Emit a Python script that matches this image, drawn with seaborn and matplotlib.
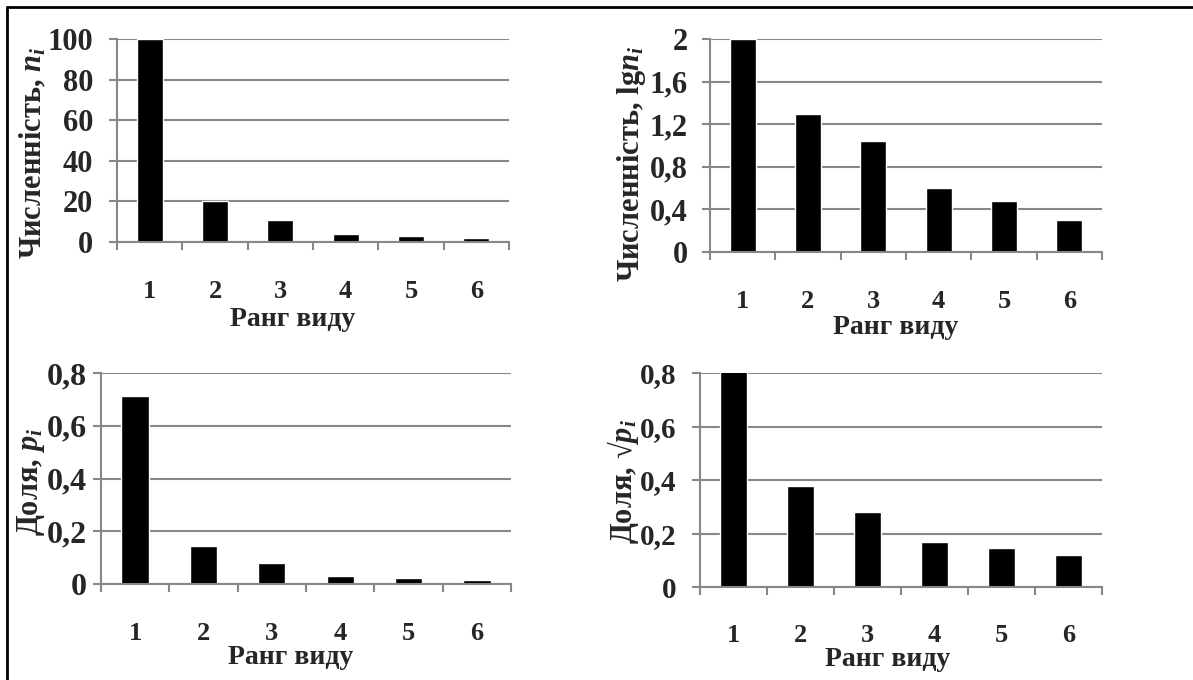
import numpy as np
import pandas as pd
import matplotlib
matplotlib.use('Agg')
import matplotlib.pyplot as plt
import seaborn as sns
from matplotlib.ticker import FuncFormatter, FixedLocator
from matplotlib.lines import Line2D

# --- STYLE ---
sns.set_style('white')
plt.rcParams['font.family'] = ['Liberation Serif', 'DejaVu Serif']
plt.rcParams['font.weight'] = 'bold'
plt.rcParams['mathtext.fontset'] = 'custom'
plt.rcParams['mathtext.rm'] = 'Liberation Serif:bold'
plt.rcParams['mathtext.it'] = 'Liberation Serif:italic:bold'
plt.rcParams['mathtext.bf'] = 'Liberation Serif:bold'

# --- DATA ---
ranks = ['1', '2', '3', '4', '5', '6']
n_i = [100, 20, 11, 4, 3, 2]
lg_n_i = [2.0, 1.30, 1.04, 0.60, 0.48, 0.30]
p_i = [0.714, 0.143, 0.079, 0.029, 0.021, 0.014]
sqrt_p_i = [0.845, 0.378, 0.280, 0.169, 0.146, 0.120]

ylabels = ['Численність, $n_i$', 'Численність, lg$n_i$', 'Доля, $p_i$', 'Доля, √$p_i$']
y_ticks = [np.arange(0, 101, 20), np.arange(0, 2.01, 0.4),
           np.arange(0, 0.81, 0.2), np.arange(0, 0.81, 0.2)]
y_max = [100, 2, 0.8, 0.8]

W, H = 1193, 680
# axes boxes in pixels: left, right, top, bottom
boxes = [(117, 509, 39, 242), (710, 1102, 39, 252),
         (101, 511, 373, 584), (700, 1102, 373, 587)]
# label centres in pixels: ylabel (x, y), xlabel (x, y)
ylab_pos = [(33, 153), (632, 164), (31, 482), (623, 482)]
xlab_pos = [(293, 320), (896, 327), (291, 658), (888, 659)]
ytick_pad = [11, 10, 4, 11]
ytick_size = [22, 22, 23, 21]

GRAY = '#878787'


def fmt(v, _):
    return f"{v:g}".replace('.', ',')


fig = plt.figure(figsize=(W / 100, H / 100), dpi=100)
series = [n_i, lg_n_i, p_i, sqrt_p_i]

for i, vals in enumerate(series):
    l, r, t, b = boxes[i]
    ax = fig.add_axes([l / W, 1 - b / H, (r - l) / W, (b - t) / H])
    df = pd.DataFrame({'rank': ranks, 'value': vals})
    sns.barplot(data=df, x='rank', y='value', color='black', saturation=1,
                width=0.4, ax=ax)
    ax.set_xlim(-0.5, 5.5)
    ax.set_ylim(0, y_max[i])
    ax.set_axisbelow(True)
    ax.yaxis.grid(True, color=GRAY, linewidth=1.5)
    for s in ['top', 'right']:
        ax.spines[s].set_visible(False)
    for s in ['left', 'bottom']:
        ax.spines[s].set_color(GRAY)
        ax.spines[s].set_linewidth(1.5)

    ax.set_yticks(y_ticks[i])
    ax.yaxis.set_major_formatter(FuncFormatter(fmt))
    ax.tick_params(axis='y', length=6, width=1.5, color=GRAY, pad=ytick_pad[i],
                   labelsize=ytick_size[i], left=True)
    ax.xaxis.set_minor_locator(FixedLocator(np.arange(-0.5, 6, 1)))
    ax.tick_params(axis='x', which='minor', length=6, width=1.5, color=GRAY,
                   bottom=True)
    ax.tick_params(axis='x', which='major', length=0, pad=27, labelsize=19)
    for lab in ax.get_xticklabels() + ax.get_yticklabels():
        lab.set_fontweight('bold')

    ax.set_xlabel('Ранг виду', fontsize=20, fontweight='bold')
    ax.xaxis.label.set_va('center')
    ax.xaxis.set_label_coords(xlab_pos[i][0] / W, 1 - xlab_pos[i][1] / H,
                              transform=fig.transFigure)
    ax.set_ylabel(ylabels[i], fontsize=22, fontweight='bold')
    ax.yaxis.label.set_va('center')
    ax.yaxis.set_label_coords(ylab_pos[i][0] / W, 1 - ylab_pos[i][1] / H,
                              transform=fig.transFigure)

# frame lines at the top and left edge of the picture
fig.add_artist(Line2D([7 / W, 1], [1 - 7 / H, 1 - 7 / H], color='black',
                      linewidth=2, transform=fig.transFigure))
fig.add_artist(Line2D([7 / W, 7 / W], [0, 1 - 7 / H], color='black',
                      linewidth=2, transform=fig.transFigure))

fig.savefig('out.png', dpi=100)
